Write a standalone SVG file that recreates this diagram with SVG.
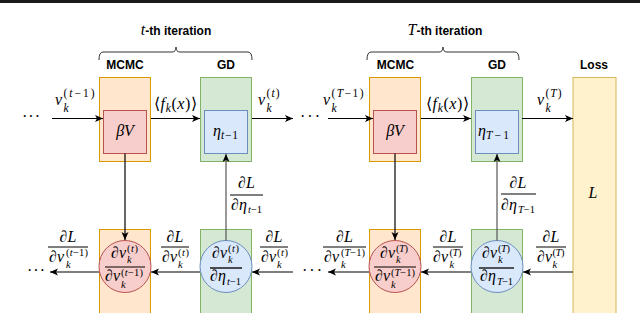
<svg xmlns="http://www.w3.org/2000/svg" width="640" height="313" viewBox="0 0 640 313">
<defs>
<style>
.co{fill:#ffe6cc;stroke:#d79b00;stroke-width:1}
.cg{fill:#d5e8d4;stroke:#82b366;stroke-width:1}
.cy{fill:#fff2cc;stroke:#d6b656;stroke-width:1}
.br_{fill:#f8cecc;stroke:#b85450;stroke-width:1}
.bb{fill:#dae8fc;stroke:#6c8ebf;stroke-width:1}
.hd{font-family:"Liberation Sans",Arial,sans-serif;font-weight:bold;font-size:12px;text-anchor:middle;fill:#000}
.m{font-family:"Liberation Serif","Times New Roman",serif;font-style:italic;font-weight:normal;font-size:16px;fill:#000}
.s{font-size:11.5px}
.ss{font-size:10.5px}
.u{font-style:normal}
.c{text-anchor:middle}
.ar{stroke:#000;stroke-width:1.2;fill:none;marker-end:url(#ah)}
.arg{stroke:#555;stroke-width:1.2;fill:none;marker-end:url(#ah)}
.fl{stroke:#000;stroke-width:1}
.flb{stroke:#222;stroke-width:1.6}
.brace{fill:none;stroke:#333;stroke-width:1}
.dots{font-family:"Liberation Serif",serif;font-size:16px;fill:#000}
</style>
<marker id="ah" markerUnits="userSpaceOnUse" markerWidth="10" markerHeight="10" viewBox="0 0 10 10" refX="9" refY="5" orient="auto"><path d="M1,1.5 L9,5 L1,8.5 L3,5 z" fill="#000"/></marker>
</defs>
<rect x="0" y="0" width="640" height="3" fill="#1a1a1a"/>

<g id="iter-t-header">
<path class="brace" d="M99,60 Q99,52 103,52 L172,52 Q176,52 176,47 Q176,52 180,52 L248,52 Q252,52 252,60"/>
<text class="hd" x="176" y="35"><tspan class="m">t</tspan>-th iteration</text>
<text class="hd" x="125" y="69">MCMC</text>
<text class="hd" x="226" y="69">GD</text>
</g>
<g id="iter-T-header">
<path class="brace" d="M367,60 Q367,52 371,52 L439,52 Q443,52 443,47 Q443,52 447,52 L515,52 Q519,52 519,60"/>
<text class="hd" x="445" y="35"><tspan class="m">T</tspan>-th iteration</text>
<text class="hd" x="395.5" y="69">MCMC</text>
<text class="hd" x="497" y="69">GD</text>
<text class="hd" x="594" y="69">Loss</text>
</g>

<g id="mcmc-t"><rect class="co" x="99.5" y="77.5" width="51" height="84"/><rect class="co" x="99.5" y="229.5" width="51" height="90"/></g>
<g id="gd-t"><rect class="cg" x="200.5" y="77.5" width="51" height="84"/><rect class="cg" x="200.5" y="229.5" width="51" height="90"/></g>
<g id="mcmc-T"><rect class="co" x="369.5" y="77.5" width="51" height="84"/><rect class="co" x="369.5" y="229.5" width="51" height="90"/></g>
<g id="gd-T"><rect class="cg" x="471.5" y="77.5" width="51" height="84"/><rect class="cg" x="471.5" y="229.5" width="51" height="90"/></g>
<g id="loss"><rect class="cy" x="573" y="77.5" width="43" height="242"/><text class="m c" x="593" y="198">L</text></g>

<g id="betaV-t"><rect class="br_" x="103.5" y="110.5" width="43" height="43"/><text class="m c" x="125" y="136">βV</text></g>
<g id="eta-t"><rect class="bb" x="204.5" y="110.5" width="43" height="43"/>
<text class="m" x="213" y="136">η</text><text class="m s" x="221" y="139" textLength="17">t<tspan class="u">−1</tspan></text></g>
<g id="betaV-T"><rect class="br_" x="373.5" y="110.5" width="43" height="43"/><text class="m c" x="395" y="136">βV</text></g>
<g id="eta-T"><rect class="bb" x="475.5" y="110.5" width="43" height="43"/>
<text class="m" x="478" y="136">η</text><text class="m s" x="486" y="139" textLength="23">T<tspan class="u">−1</tspan></text></g>

<g id="jac-t-mcmc"><circle class="br_" cx="125" cy="266.5" r="26"/>
<text class="m" x="111" y="258">∂v</text><text class="m ss" x="127" y="252" textLength="11"><tspan class="u">(</tspan>t<tspan class="u">)</tspan></text><text class="m ss" x="127" y="263">k</text>
<line class="fl" x1="105" y1="267" x2="145" y2="267"/>
<text class="m" x="105" y="281">∂v</text><text class="m ss" x="121" y="276" textLength="22"><tspan class="u">(</tspan>t<tspan class="u">−1)</tspan></text><text class="m ss" x="121" y="288">k</text></g>
<g id="jac-t-gd"><circle class="bb" cx="226" cy="266.5" r="26"/>
<text class="m" x="212" y="258">∂v</text><text class="m ss" x="228" y="252" textLength="11"><tspan class="u">(</tspan>t<tspan class="u">)</tspan></text><text class="m ss" x="228" y="263">k</text>
<line class="flb" x1="210" y1="268" x2="242" y2="268"/>
<text class="m" x="210" y="281">∂η</text><text class="m ss" x="227" y="285" textLength="14">t<tspan class="u">−1</tspan></text></g>
<g id="jac-T-mcmc"><circle class="br_" cx="395" cy="266.5" r="26"/>
<text class="m" x="380" y="258">∂v</text><text class="m ss" x="396" y="252" textLength="12"><tspan class="u">(</tspan>T<tspan class="u">)</tspan></text><text class="m ss" x="396" y="263">k</text>
<line class="fl" x1="374" y1="267" x2="416" y2="267"/>
<text class="m" x="375" y="281">∂v</text><text class="m ss" x="391" y="276" textLength="24"><tspan class="u">(</tspan>T<tspan class="u">−1)</tspan></text><text class="m ss" x="391" y="288">k</text></g>
<g id="jac-T-gd"><circle class="bb" cx="497" cy="266.5" r="26"/>
<text class="m" x="482" y="258">∂v</text><text class="m ss" x="498" y="252" textLength="12"><tspan class="u">(</tspan>T<tspan class="u">)</tspan></text><text class="m ss" x="498" y="263">k</text>
<line class="flb" x1="479" y1="268" x2="514" y2="268"/>
<text class="m" x="480" y="281">∂η</text><text class="m ss" x="497" y="285" textLength="16">T<tspan class="u">−1</tspan></text></g>

<g id="connectors">
<text class="dots" x="22" y="122" textLength="18">···</text>
<path class="ar" d="M52,118.5 L103,118.5"/>
<path class="ar" d="M151,118.5 L200,118.5"/>
<path class="ar" d="M252,118.5 L293,118.5"/>
<text class="dots" x="300" y="122" textLength="20">···</text>
<path class="ar" d="M328,118.5 L373,118.5"/>
<path class="ar" d="M421,118.5 L471,118.5"/>
<path class="ar" d="M522,118.5 L573,118.5"/>
<path class="ar" d="M125,153.5 L125,240"/>
<path class="arg" d="M226,240.5 L226,154"/>
<path class="ar" d="M395,153.5 L395,240"/>
<path class="arg" d="M497,240.5 L497,154"/>
<path class="ar" d="M293,272 L252,272"/>
<path class="ar" d="M200,272 L151,272"/>
<path class="ar" d="M99,272 L50,272"/>
<text class="dots" x="27" y="276" textLength="18">···</text>
<path class="ar" d="M573,272 L523,272"/>
<path class="ar" d="M471,272 L421,272"/>
<path class="ar" d="M369,272 L328,272"/>
<text class="dots" x="302" y="276" textLength="20">···</text>
</g>

<g id="labels-top">
<text class="m" x="55" y="105">v</text><text class="m s" x="63.5" y="97" textLength="31"><tspan class="u">(</tspan>t<tspan class="u">−1)</tspan></text><text class="m s" x="63.5" y="112">k</text>
<text class="m" x="154" y="109" textLength="43"><tspan class="u">⟨</tspan>f<tspan class="s" dy="3">k</tspan><tspan class="u" dy="-3">(</tspan>x<tspan class="u">)⟩</tspan></text>
<text class="m" x="258" y="105">v</text><text class="m s" x="266.5" y="97" textLength="13"><tspan class="u">(</tspan>t<tspan class="u">)</tspan></text><text class="m s" x="266.5" y="112">k</text>
<text class="m" x="323" y="105">v</text><text class="m s" x="331.5" y="97" textLength="32"><tspan class="u">(</tspan>T<tspan class="u">−1)</tspan></text><text class="m s" x="331.5" y="112">k</text>
<text class="m" x="426" y="109" textLength="43"><tspan class="u">⟨</tspan>f<tspan class="s" dy="3">k</tspan><tspan class="u" dy="-3">(</tspan>x<tspan class="u">)⟩</tspan></text>
<text class="m" x="537" y="105">v</text><text class="m s" x="545.5" y="97" textLength="16"><tspan class="u">(</tspan>T<tspan class="u">)</tspan></text><text class="m s" x="545.5" y="112">k</text>
</g>

<g id="labels-bottom">
<text class="m c" x="68" y="242">∂L</text><line class="fl" x1="48" y1="247" x2="88" y2="247"/>
<text class="m" x="49" y="262">∂v</text><text class="m ss" x="66" y="256" textLength="22"><tspan class="u">(</tspan>t<tspan class="u">−1)</tspan></text><text class="m ss" x="66" y="268">k</text>

<text class="m c" x="175" y="242">∂L</text><line class="fl" x1="161" y1="247" x2="189" y2="247"/>
<text class="m" x="162" y="262">∂v</text><text class="m ss" x="178" y="256" textLength="11"><tspan class="u">(</tspan>t<tspan class="u">)</tspan></text><text class="m ss" x="178" y="268">k</text>

<text class="m c" x="274" y="242">∂L</text><line class="fl" x1="260" y1="247" x2="288" y2="247"/>
<text class="m" x="261" y="262">∂v</text><text class="m ss" x="277" y="256" textLength="11"><tspan class="u">(</tspan>t<tspan class="u">)</tspan></text><text class="m ss" x="277" y="268">k</text>

<text class="m c" x="246.5" y="188">∂L</text><line class="fl" x1="230" y1="195" x2="263" y2="195"/>
<text class="m" x="231" y="210">∂η</text><text class="m ss" x="248" y="213" textLength="14">t<tspan class="u">−1</tspan></text>

<text class="m c" x="344.5" y="242">∂L</text><line class="fl" x1="323" y1="247" x2="366" y2="247"/>
<text class="m" x="324" y="262">∂v</text><text class="m ss" x="341" y="256" textLength="24"><tspan class="u">(</tspan>T<tspan class="u">−1)</tspan></text><text class="m ss" x="341" y="268">k</text>

<text class="m c" x="448" y="242">∂L</text><line class="fl" x1="433" y1="247" x2="463" y2="247"/>
<text class="m" x="433" y="262">∂v</text><text class="m ss" x="449.5" y="256" textLength="12"><tspan class="u">(</tspan>T<tspan class="u">)</tspan></text><text class="m ss" x="449.5" y="268">k</text>

<text class="m c" x="551" y="242">∂L</text><line class="fl" x1="536" y1="247" x2="566" y2="247"/>
<text class="m" x="537" y="262">∂v</text><text class="m ss" x="552.5" y="256" textLength="12"><tspan class="u">(</tspan>T<tspan class="u">)</tspan></text><text class="m ss" x="552.5" y="268">k</text>

<text class="m c" x="518" y="188">∂L</text><line class="fl" x1="501" y1="194" x2="536" y2="194"/>
<text class="m" x="501" y="210">∂η</text><text class="m ss" x="518" y="213" textLength="17">T<tspan class="u">−1</tspan></text>
</g>
</svg>
